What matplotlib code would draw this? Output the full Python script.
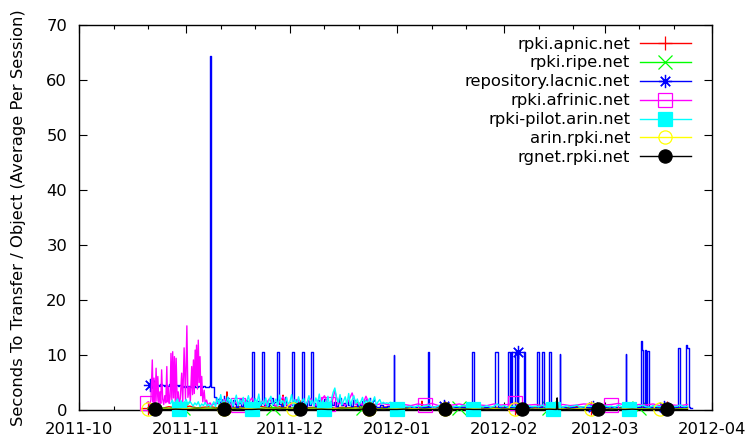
import numpy as np
import matplotlib
matplotlib.use("Agg")
import matplotlib.pyplot as plt
import matplotlib.dates as mdates
from matplotlib.ticker import MultipleLocator

# ---------------- data (days since 2011-10-01) ----------------
grid2 = np.arange(20, 177, 2)  # sampling grid for the flat series

apnic_vals = [0.4,0.5,0.3,0.6,0.4,0.5,0.7,0.4,0.5,0.6,
              0.4,0.5,0.3,0.6,0.5,0.4,0.7,0.5,0.4,0.6,
              0.5,0.3,0.6,0.4,0.5,0.4,0.6,0.3,0.5,0.4,
              0.6,0.5,0.4,0.3,0.5,0.6,0.4,0.5,0.3,0.4,
              0.5,0.6,0.4,0.3,0.5,0.4,0.6,0.5,0.3,0.4,
              0.5,0.4,0.6,0.3,0.5,0.4,0.5,0.6,0.4,0.3,
              0.5,0.4,0.6,0.5,0.3,0.4,0.5,0.6,0.4,0.5,
              0.3,0.4,0.6,0.5,0.4,0.3,0.5,0.4,0.5]
apnic_spike_days = [42.6, 42.8, 43.0, 58.8, 59.0, 59.2, 99.0, 99.2, 99.4]
apnic_spike_vals = [0.5, 3.3, 0.5, 0.4, 2.7, 0.4, 0.5, 1.6, 0.5]

ripe_vals = [0.35,0.30,0.35,0.30,0.40,0.35,0.30,0.35,0.30,0.35,
             0.30,0.35,0.30,0.35,0.30,0.40,0.30,0.35,0.30,0.35,
             0.30,0.35,0.40,0.30,0.35,0.30,0.35,0.30,0.35,0.30,
             0.35,0.30,0.35,0.40,0.30,0.35,0.30,0.35,0.30,0.35,
             0.30,0.35,0.30,0.35,0.40,0.30,0.35,0.30,0.35,0.30,
             0.35,0.30,0.35,0.30,0.35,0.40,0.30,0.35,0.30,0.35,
             0.30,0.35,0.30,0.35,0.30,0.35,0.40,0.30,0.35,0.30,
             0.35,0.30,0.35,0.30,0.35,0.30,0.35,0.30,0.35]

lacnic_days = [20.5,21.0,21.5,22.0,22.5,23.0,23.5,24.0,24.5,25.0,
               25.5,26.0,26.5,27.0,27.5,28.0,28.5,29.0,29.5,30.0,
               30.5,31.0,31.5,32.0,32.5,33.0,33.5,34.0,34.5,35.0,
               35.5,36.0,36.5,37.0,37.5,37.8,38.1,38.5,39.0,
               39.5,40.0,40.5,41.0,41.5,42.0,42.5,43.0,43.5,44.0,
               44.5,45.0,45.5,46.0,46.5,47.0,47.5,48.0,48.5,49.0,
               49.5,49.9,50.5,51.0,51.5,52.0,52.5,52.8,53.4,54.0,
               54.5,55.0,55.5,56.0,56.5,57.3,57.9,58.5,59.0,59.5,
               60.0,60.5,61.0,61.6,62.2,62.7,63.2,63.7,64.4,65.0,
               65.5,66.0,66.5,67.2,67.8,68.3,68.8,69.3,69.8,70.3,
               70.8,71.3,71.8,72.3,72.8,73.3,73.8,74.3,74.8,75.3,
               75.8,76.3,76.8,77.3,77.8,78.3,78.8,79.3,79.8,80.3,
               80.8,81.3,81.8,82.3,82.8,83.3,83.8,84.3,85.0,86.0,
               87.0,88.0,89.0,90.0,91.0,91.15,92.0,93.0,94.0,95.0,
               96.0,97.0,98.0,99.0,100.0,100.9,101.2,102.0,103.0,104.0,
               105.0,105.7,106.5,107.5,108.5,109.5,110.5,111.5,112.5,113.6,
               114.2,115.0,116.0,117.0,118.0,119.0,120.3,121.3,122.0,123.0,
               124.2,124.6,124.9,125.2,125.7,126.2,126.6,126.9,127.1,127.8,
               128.8,129.0,130.0,131.0,132.4,133.0,133.8,134.6,135.2,135.9,
               136.5,137.5,138.5,139.1,139.25,140.0,141.0,142.0,143.0,144.0,
               145.0,146.0,147.0,148.0,148.7,150.0,151.0,152.0,153.0,154.0,
               155.0,156.0,157.0,158.1,158.25,159.0,160.0,161.0,162.5,162.8,
               163.2,163.6,164.0,164.4,164.8,165.1,166.0,167.0,168.0,169.2,
               170.0,171.0,172.0,173.3,173.7,174.5,175.5,175.9,176.3,176.6,
               177.2]
lacnic_vals = [4.6,4.3,4.7,4.4,4.6,4.3,4.7,4.5,4.3,4.6,
               4.4,4.7,4.3,4.5,4.4,4.6,4.3,4.5,4.3,4.2,
               4.3,4.2,4.3,4.2,4.2,4.3,4.2,4.2,4.3,4.2,
               4.2,4.3,4.2,4.2,4.3,64.3,4.2,4.2,2.4,
               1.2,2.0,0.8,1.6,0.6,1.4,2.2,0.9,1.5,0.7,
               1.8,1.1,0.6,1.3,2.0,0.8,1.2,1.9,0.7,1.4,
               1.0,10.5,1.2,0.8,1.7,0.9,1.3,10.5,1.0,1.6,
               0.7,1.2,2.1,0.9,1.4,10.5,1.1,0.8,1.5,2.3,
               1.0,0.7,1.3,10.5,1.0,1.8,0.9,1.2,10.5,1.1,
               0.7,1.6,1.0,10.5,1.3,0.8,1.9,1.1,0.7,1.4,
               2.0,0.9,1.3,0.6,1.7,1.0,1.5,0.8,1.2,2.1,
               0.9,1.3,0.7,1.6,1.0,1.4,0.8,1.9,1.1,0.7,
               1.3,1.0,1.6,0.8,1.2,0.9,0.6,1.1,0.8,0.6,
               0.9,0.5,0.7,0.5,10.0,0.6,0.5,0.6,0.4,0.7,
               0.5,0.6,0.4,0.5,0.6,10.5,0.5,0.6,0.4,0.6,
               0.5,0.7,0.4,0.6,0.5,0.4,0.6,0.5,0.4,10.5,
               0.5,0.6,0.4,0.5,0.6,0.4,10.5,0.6,0.4,0.5,
               10.5,0.5,10.5,0.6,0.4,10.5,0.5,10.5,0.6,0.4,
               10.5,0.5,0.6,0.4,10.5,0.5,10.5,0.6,0.4,10.5,
               0.5,0.6,0.4,10.2,0.5,0.6,0.4,0.5,0.6,0.4,
               0.5,0.6,0.4,0.5,0.6,0.4,0.5,0.6,0.4,0.5,
               0.6,0.4,0.5,10.2,0.5,0.6,0.4,0.5,12.5,11.0,
               0.6,11.0,0.5,10.8,0.6,0.5,0.6,0.4,0.5,0.6,
               0.4,0.5,0.6,11.3,0.5,0.6,11.8,11.2,0.5,0.4,
               0.4]

afrinic_early_days = [19.6,20.0,20.4,20.8,21.2,21.45,21.7,22.0,22.3,22.55,
                      22.8,23.1,23.4,23.65,23.9,24.2,24.5,24.8,25.1,25.4,
                      25.6,25.8,26.1,26.35,26.6,26.85,27.1,27.35,27.6,27.85,
                      28.1,28.4,28.7,29.0,29.3,29.7,30.0,30.4,30.8,31.2,
                      31.5,31.9,32.2,32.6,32.85,33.1,33.35,33.6,33.8,34.0,
                      34.25,34.5,34.75,35.0,35.25,35.5,35.8,36.2,36.5,36.9,
                      37.3,37.9,38.4,39.0,40.0,41.0,42.0,43.0,44.0,45.0]
afrinic_early_vals = [1.3,1.5,0.9,1.8,9.1,1.4,5.8,1.1,7.6,1.6,
                      6.1,0.9,3.3,1.2,7.3,2.0,1.0,2.6,1.3,7.9,
                      1.5,4.2,1.2,2.4,10.3,1.8,10.6,2.2,9.7,1.4,
                      9.4,1.7,3.3,1.0,2.1,6.7,1.3,11.3,1.9,15.3,
                      2.3,4.2,1.6,7.9,2.8,9.1,3.0,10.9,4.5,11.8,
                      3.8,12.7,5.0,9.7,2.6,6.1,1.5,3.6,1.2,1.8,
                      0.9,1.3,0.8,1.1,1.4,0.8,1.9,1.2,0.7,1.5]
afrinic_mid_days = np.arange(46, 93, 1)
afrinic_mid_vals = [1.0,1.8,0.9,1.3,2.2,0.8,1.1,1.6,0.9,2.0,
                    1.2,0.7,1.5,2.4,1.0,0.8,1.3,1.9,1.1,0.9,
                    1.4,2.1,1.0,0.8,1.6,2.6,1.1,0.9,3.5,1.1,
                    1.4,0.8,1.7,3.1,1.0,1.3,0.9,2.5,1.1,1.0,
                    0.9,1.1,1.2,1.0,0.9,1.1,1.0]
afrinic_late_days = np.arange(94, 177, 2)
afrinic_late_vals = [1.0,0.8,1.1,0.9,1.2,0.8,1.0,0.9,1.1,0.8,
                     1.0,0.9,0.8,1.1,0.9,1.0,1.2,0.8,0.9,1.0,
                     0.8,1.1,0.9,1.0,0.8,0.9,1.1,1.0,0.8,0.9,
                     1.0,1.2,0.9,0.8,1.0,0.9,1.1,0.8,1.0,0.9,
                     0.8,1.0]

pilot_early_days = np.arange(26.5, 92, 0.5)
pilot_early_vals = [1.2,1.8,0.9,1.5,2.0,0.2,1.7,0.8,1.4,1.9,
                    1.0,1.6,1.2,0.7,1.3,0.9,1.5,0.6,1.1,0.8,
                    1.4,0.7,1.0,0.6,0.9,
                    1.5,0.6,2.2,1.0,2.8,0.9,1.7,0.5,2.4,1.2,
                    2.0,0.7,1.6,2.7,0.8,1.9,1.1,2.3,0.6,1.5,
                    2.6,1.0,0.2,0.7,2.1,1.3,2.9,0.8,1.6,1.0,
                    2.2,0.6,1.8,2.5,0.9,1.4,2.0,0.7,2.7,1.2,
                    1.7,0.8,2.3,1.0,1.5,2.8,0.7,1.9,1.1,2.4,
                    0.9,1.6,2.1,0.8,1.4,2.6,1.0,1.8,0.7,2.2,
                    1.3,2.9,0.9,1.7,0.2,1.1,2.5,0.8,1.9,3.2,
                    4.0,2.2,1.4,2.8,0.9,1.6,2.4,1.1,3.0,0.8,
                    1.8,2.6,1.2,2.0,0.9,1.5,2.3,1.0,1.7,1.3,
                    2.1,1.0,1.6,2.4,0.9,1.5,1.9,1.1,1.4,1.2,
                    1.3,1.2,1.4,1.3,1.2,1.3]
pilot_late_days = np.arange(92, 177, 1)
pilot_late_vals = [0.2,1.3,0.8,0.6,0.7,0.5,0.8,0.6,0.7,0.9,
                   0.6,0.5,0.8,0.7,0.6,0.9,0.5,0.7,0.6,0.8,
                   0.7,0.5,0.2,0.9,0.7,0.6,0.8,0.5,0.7,1.1,
                   0.6,0.8,0.5,0.7,0.6,0.9,0.7,0.5,0.8,0.6,
                   0.7,0.6,0.9,0.5,0.7,0.2,0.6,0.7,0.5,0.8,
                   0.6,0.7,0.9,0.5,0.6,0.8,0.7,0.6,0.5,0.7,
                   0.8,0.6,0.7,0.5,0.9,0.6,0.7,0.2,0.5,0.6,
                   0.7,0.9,0.6,0.5,0.8,0.7,0.6,0.7,0.5,0.8,
                   0.6,0.7,0.9,0.6,0.7]

arin_vals = [0.15,0.20,0.15,0.20,0.15,0.20,0.25,0.15,0.20,0.15,
             0.20,0.15,0.20,0.15,0.25,0.20,0.15,0.20,0.15,0.20,
             0.15,0.20,0.15,0.20,0.15,0.20,0.15,0.25,0.20,0.15,
             0.20,0.15,0.20,0.15,0.20,0.15,0.20,0.15,0.25,0.20,
             0.15,0.20,0.15,0.20,0.15,0.20,0.15,0.20,0.15,0.20,
             0.25,0.15,0.20,0.15,0.20,0.15,0.20,0.15,0.20,0.15,
             0.20,0.15,0.25,0.20,0.15,0.20,0.15,0.20,0.15,0.20,
             0.15,0.20,0.15,0.20,0.15,0.25,0.20,0.15,0.20]

rgnet_vals = [0.10,0.15,0.10,0.10,0.15,0.10,0.10,0.15,0.10,0.10,
              0.15,0.10,0.10,0.15,0.10,0.10,0.15,0.10,0.10,0.15,
              0.10,0.10,0.15,0.10,0.10,0.15,0.10,0.10,0.15,0.10,
              0.10,0.15,0.10,0.10,0.15,0.10,0.10,0.15,0.10,0.10,
              0.15,0.10,0.10,0.15,0.10,0.10,0.15,0.10,0.10,0.15,
              0.10,0.10,0.15,0.10,0.10,0.15,0.10,0.10,0.15,0.10,
              0.10,0.15,0.10,0.10,0.15,0.10,0.10,0.15,0.10,0.10,
              0.15,0.10,0.10,0.15,0.10,0.10,0.15,0.10,0.10]
rgnet_spike_days = [138.1, 138.3, 138.5]
rgnet_spike_vals = [0.1, 2.2, 0.1]

series_labels = ["rpki.apnic.net", "rpki.ripe.net", "repository.lacnic.net",
                 "rpki.afrinic.net", "rpki-pilot.arin.net", "arin.rpki.net",
                 "rgnet.rpki.net"]
ylabel_text = "Seconds To Transfer / Object (Average Per Session)"

# ---------------- helpers ----------------
BASE = np.datetime64("2011-10-01T00:00")


def to_dates(days):
    return BASE + (np.asarray(days, dtype=float) * 86400).astype("timedelta64[s]")


def merge(d1, v1, d2, v2):
    d = np.r_[np.asarray(d1, float), np.asarray(d2, float)]
    v = np.r_[np.asarray(v1, float), np.asarray(v2, float)]
    o = np.argsort(d, kind="stable")
    return d[o], v[o]


def marks(days, targets):
    days = np.asarray(days, float)
    return sorted({int(np.argmin(np.abs(days - t))) for t in targets})


apnic_d, apnic_v = merge(grid2, apnic_vals, apnic_spike_days, apnic_spike_vals)
ripe_d, ripe_v = np.asarray(grid2, float), np.asarray(ripe_vals, float)
lac_d, lac_v = np.asarray(lacnic_days, float), np.asarray(lacnic_vals, float)
afr_d = np.r_[afrinic_early_days, afrinic_mid_days, afrinic_late_days].astype(float)
afr_v = np.r_[afrinic_early_vals, afrinic_mid_vals, afrinic_late_vals].astype(float)
pil_d = np.r_[pilot_early_days, pilot_late_days].astype(float)
pil_v = np.r_[pilot_early_vals, pilot_late_vals].astype(float)
arin_d, arin_v = np.asarray(grid2, float), np.asarray(arin_vals, float)
rg_d, rg_v = merge(grid2, rgnet_vals, rgnet_spike_days, rgnet_spike_vals)

# marker placement (style)
mk_apnic = [20.8, 42.0, 63.2, 84.4, 105.6, 126.8, 148.0, 169.2]
mk_ripe = [30.3, 56.6, 82.9, 109.2, 135.5, 161.8]
mk_lac = [20.5, 41.8, 63.1, 84.4, 105.7, 126.9, 148.7, 169.2]
mk_afr = [19.6, 45.8, 72.4, 99.1, 125.8, 153.1]
mk_pil = [29.2, 50.0, 71.0, 91.9, 113.6, 137.2, 158.6]
mk_arin = [20.6, 41.8, 63.0, 84.2, 105.4, 126.6, 147.8, 169.0]
mk_rg = [21.3, 42.0, 63.1, 84.2, 105.6, 127.3, 149.5, 170.4]

# ---------------- figure ----------------
FS = 11.8
plt.rcParams["font.family"] = ["DejaVu Sans"]
fig = plt.figure(figsize=(7.45, 4.38), dpi=100)
ax = fig.add_axes([79 / 745, 1 - 410 / 438, (711.7 - 79) / 745, (410 - 25) / 438])

LW = 1.0
MS = 9.5
common = dict(lw=LW, ms=MS, mew=0.9, clip_on=False, zorder=3)

ax.plot(to_dates(apnic_d), apnic_v, color="#ff0000", marker="+",
        markevery=marks(apnic_d, mk_apnic), label=series_labels[0], **common)
ax.plot(to_dates(ripe_d), ripe_v, color="#00ff00", marker="x",
        markevery=marks(ripe_d, mk_ripe), label=series_labels[1], **common)
ax.plot(to_dates(lac_d), lac_v, color="#0000ff", marker=(8, 2, 0), drawstyle="steps-post",
        markevery=marks(lac_d, mk_lac), label=series_labels[2], **common)
ax.plot(to_dates(afr_d), afr_v, color="#ff00ff", marker="s", mfc="none",
        markevery=marks(afr_d, mk_afr), label=series_labels[3], **common)
ax.plot(to_dates(pil_d), pil_v, color="#00ffff", marker="s",
        markevery=marks(pil_d, mk_pil), label=series_labels[4], **common)
ax.plot(to_dates(arin_d), arin_v, color="#ffff00", marker="o", mfc="none",
        markevery=marks(arin_d, mk_arin), label=series_labels[5], **common)
ax.plot(to_dates(rg_d), rg_v, color="#000000", marker="o",
        markevery=marks(rg_d, mk_rg), label=series_labels[6], **common)

ax.set_xlim(to_dates([0])[0], to_dates([183])[0])
ax.set_ylim(0, 70)
ax.xaxis.set_major_locator(mdates.MonthLocator())
ax.xaxis.set_major_formatter(mdates.DateFormatter("%Y-%m"))
ax.xaxis.set_minor_locator(mdates.DayLocator(bymonthday=[11, 21]))
ax.yaxis.set_major_locator(MultipleLocator(10))

ax.tick_params(which="both", direction="in", top=True, right=True, width=0.8)
ax.tick_params(which="major", length=5.5)
ax.tick_params(which="minor", length=2.8)
ax.tick_params(axis="x", pad=8.5, labelsize=FS)
ax.tick_params(axis="y", pad=8.5, labelsize=FS)
for sp in ax.spines.values():
    sp.set_linewidth(1.0)

ax.set_ylabel(ylabel_text, fontsize=FS)
ax.yaxis.set_label_coords(-0.084, 0.5)

ax.legend(loc="upper right", bbox_to_anchor=(0.967, 0.970), frameon=False,
          markerfirst=False, handlelength=3.1, handletextpad=0.6,
          labelspacing=0.24, borderpad=0, borderaxespad=0, fontsize=FS,
          numpoints=1)

fig.savefig("out.png", dpi=100)
